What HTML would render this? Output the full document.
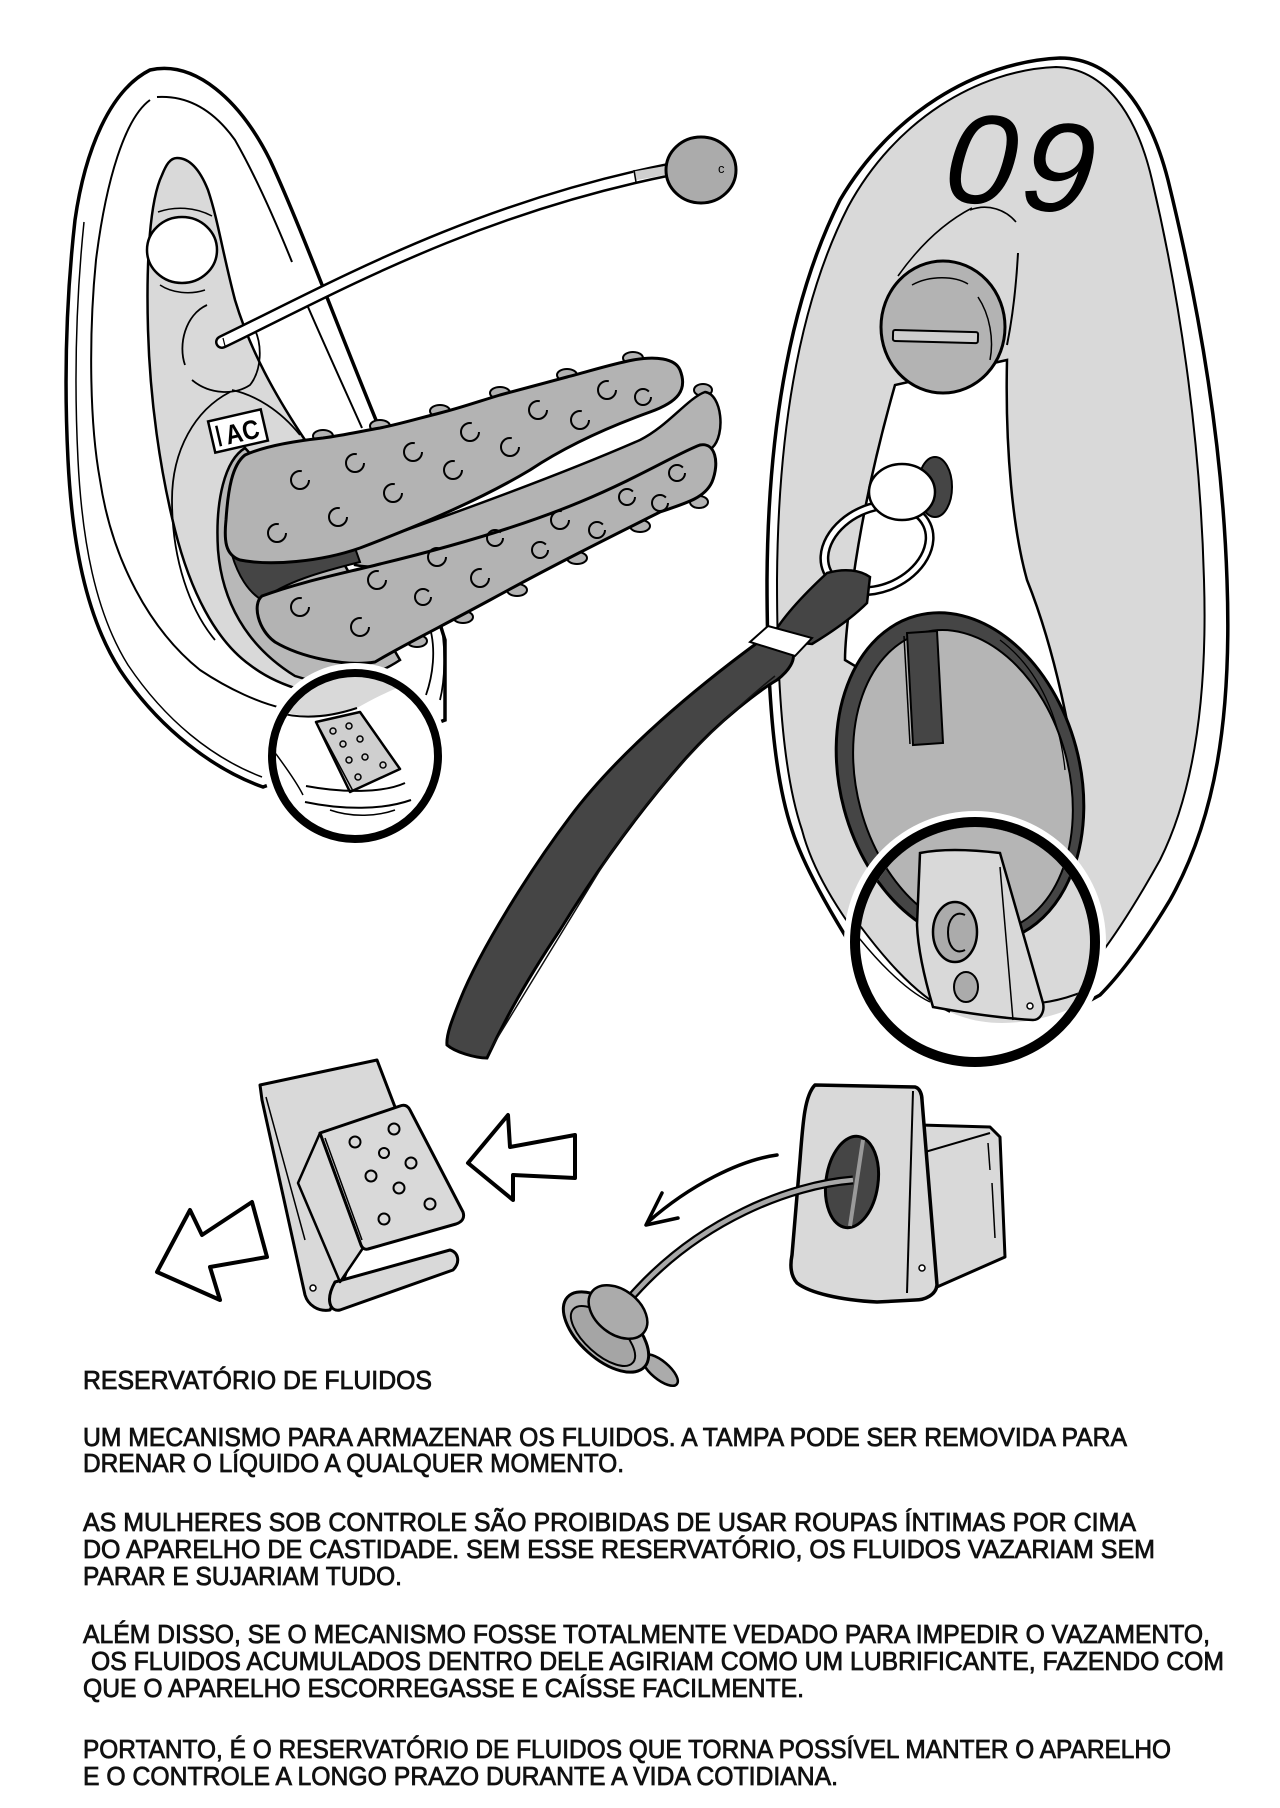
<!DOCTYPE html>
<html>
<head>
<meta charset="utf-8">
<style>
  html, body { margin:0; padding:0; background:#ffffff; }
  body { width:1280px; height:1808px; overflow:hidden; }
  svg { display:block; }
  .t { font-family: "Liberation Sans", "DejaVu Sans", sans-serif; font-size:26px; fill:#111; stroke:#111; stroke-width:0.8px; }
</style>
</head>
<body>
<svg width="1280" height="1808" viewBox="0 0 1280 1808" xmlns="http://www.w3.org/2000/svg">
  <defs>
    <clipPath id="c1"><circle cx="355" cy="756" r="79"/></clipPath>
    <clipPath id="c2"><circle cx="975" cy="942" r="115"/></clipPath>
    <g id="drain">
      <g transform="rotate(-15 960 778)">
        <ellipse cx="960" cy="778" rx="120" ry="168" fill="#454545" stroke="#000" stroke-width="3"/>
        <ellipse cx="962" cy="782" rx="106" ry="154" fill="#b5b5b5" stroke="#000" stroke-width="2"/>
      </g>
    </g>
  </defs>
  <rect width="1280" height="1808" fill="#fff"/>

  <!-- ============ LEFT DEVICE ============ -->
  <path d="M263,787 C215,770 160,730 120,670 C85,615 72,540 68,460 C64,380 66,300 75,220 C85,150 110,90 150,70 C195,60 240,100 270,160 C300,225 335,320 378,425 L445,640 L445,720 Z" fill="#fff" stroke="#000" stroke-width="3.5"/>
  <path d="M262,777 C212,758 165,720 128,665 C95,612 82,540 78,460 C74,380 76,300 84,222" fill="none" stroke="#000" stroke-width="1.5"/>
  <path d="M157,97 C190,95 215,112 235,140 C255,175 275,220 292,262" fill="none" stroke="#000" stroke-width="2"/>
  <path d="M305,300 C320,335 345,390 362,428" fill="none" stroke="#000" stroke-width="2"/>
  <path d="M150,100 C125,118 106,180 96,260 C89,330 89,420 100,480 C112,560 150,630 200,670 C230,690 260,703 282,708" fill="none" stroke="#000" stroke-width="2"/>

  <!-- gray tongue -->
  <path d="M177,158 C190,158 200,170 208,190 C218,220 222,250 235,300 C250,350 275,395 305,440 L370,700 C320,698 280,688 250,665 C215,640 190,590 175,530 C160,470 150,400 148,330 C146,260 150,200 162,175 C166,165 170,158 177,158 Z" fill="#d9d9d9" stroke="#000" stroke-width="2.5"/>
  <ellipse cx="182" cy="250" rx="35" ry="33" fill="#fff" stroke="#000" stroke-width="2.5"/>
  <path d="M158,212 C175,206 195,207 212,216" fill="none" stroke="#000" stroke-width="1.5"/>
  <path d="M160,285 C172,293 190,295 205,290" fill="none" stroke="#000" stroke-width="1.5"/>
  <path d="M207,305 C185,315 178,345 185,365" fill="none" stroke="#000" stroke-width="1.8"/>
  <path d="M192,380 C210,395 235,395 250,385 C262,370 262,345 255,330" fill="none" stroke="#000" stroke-width="1.8"/>
  <path d="M230,392 C195,410 172,450 172,500 C172,560 190,610 215,640" fill="none" stroke="#000" stroke-width="1.8"/>
  <path d="M232,390 C255,395 280,410 300,435" fill="none" stroke="#000" stroke-width="1.8"/>
  <g transform="translate(238,431) rotate(-13)">
    <rect x="-27" y="-16" width="54" height="32" fill="#fff" stroke="#000" stroke-width="2.5"/>
    <line x1="-20" y1="-10" x2="-20" y2="11" stroke="#000" stroke-width="2.5"/>
    <text x="4" y="11" font-family="Liberation Sans, sans-serif" font-weight="bold" font-size="27" text-anchor="middle" textLength="34" lengthAdjust="spacingAndGlyphs">AC</text>
  </g>

  <!-- tube & ball -->
  <path d="M222,342 C330,290 470,210 668,170" fill="none" stroke="#000" stroke-width="14" stroke-linecap="round"/>
  <path d="M222,342 C330,290 470,210 668,170" fill="none" stroke="#fff" stroke-width="9" stroke-linecap="round"/>
  <path d="M634,176 L668,170" fill="none" stroke="#cfcfcf" stroke-width="9"/>
  <line x1="634" y1="170" x2="636" y2="182" stroke="#000" stroke-width="1.5"/>
  <line x1="223" y1="338" x2="225" y2="346" stroke="#000" stroke-width="1.2"/>
  <ellipse cx="701" cy="170" rx="35" ry="33" fill="#ababab" stroke="#000" stroke-width="3"/>
  <text x="718" y="173" font-family="Liberation Sans, sans-serif" font-size="13" fill="#000">c</text>

  <!-- shell lines under insert -->
  <path d="M430,628 C436,650 433,675 426,695" fill="none" stroke="#000" stroke-width="1.8"/>
  <path d="M441,622 C446,650 445,680 440,700" fill="none" stroke="#000" stroke-width="1.8"/>

  <!-- insert rim -->
  <path d="M245,448 C225,460 215,500 218,550 C222,600 245,645 295,676 C330,688 370,680 400,660 L330,540 Z" fill="#b8b8b8" stroke="#000" stroke-width="2.5"/>

  <!-- bumps -->
  <g fill="#b3b3b3" stroke="#000" stroke-width="2">
    <ellipse cx="323" cy="436" rx="10" ry="6"/>
    <ellipse cx="380" cy="426" rx="10" ry="6"/>
    <ellipse cx="440" cy="411" rx="10" ry="6"/>
    <ellipse cx="500" cy="393" rx="10" ry="6"/>
    <ellipse cx="567" cy="375" rx="10" ry="6"/>
    <ellipse cx="633" cy="358" rx="10" ry="6"/>
    <ellipse cx="703" cy="390" rx="9" ry="6"/>
    <ellipse cx="417" cy="641" rx="10" ry="6"/>
    <ellipse cx="463" cy="617" rx="10" ry="6"/>
    <ellipse cx="517" cy="590" rx="10" ry="6"/>
    <ellipse cx="577" cy="558" rx="10" ry="6"/>
    <ellipse cx="640" cy="526" rx="10" ry="6"/>
    <ellipse cx="699" cy="502" rx="9" ry="6"/>
  </g>

  <!-- middle lobe -->
  <path d="M355,548 C450,515 560,475 640,440 C668,426 688,398 705,392 C722,394 726,435 712,448 C690,458 620,488 520,528 C440,558 390,572 355,565 Z" fill="#b3b3b3" stroke="#000" stroke-width="2.5"/>
  <!-- dark gap -->
  <path d="M232,555 C270,566 320,560 355,548 L360,562 C320,572 285,582 262,600 C248,592 238,575 232,555 Z" fill="#454545" stroke="#000" stroke-width="2"/>
  <!-- top lobe -->
  <path d="M245,455 C265,446 295,441 323,438 C345,435 362,431 380,428 C400,424 420,418 440,413 C460,408 480,401 500,395 C522,389 545,383 567,377 C590,371 612,364 633,360 C655,356 675,358 680,370 C688,390 678,402 650,412 C600,430 560,450 530,470 C480,500 420,525 360,548 C320,562 270,566 240,560 C225,555 224,540 226,520 C228,490 232,465 245,455 Z" fill="#b3b3b3" stroke="#000" stroke-width="3"/>
  <!-- bottom lobe -->
  <path d="M262,596 C300,582 340,574 380,564 C450,547 520,527 580,502 C640,477 680,452 700,445 C715,442 720,462 712,482 C705,497 690,502 660,512 C610,537 550,567 490,600 C440,627 400,647 375,662 C345,667 300,657 275,642 C258,630 252,604 262,596 Z" fill="#b3b3b3" stroke="#000" stroke-width="3"/>

  <!-- dimples -->
  <g fill="none" stroke="#000" stroke-width="2" stroke-dasharray="44 13">
    <circle cx="300" cy="480" r="9"/><circle cx="355" cy="463" r="9"/><circle cx="413" cy="452" r="9"/>
    <circle cx="470" cy="432" r="9"/><circle cx="538" cy="410" r="9"/><circle cx="607" cy="390" r="9"/>
    <circle cx="643" cy="397" r="8"/><circle cx="580" cy="420" r="9"/><circle cx="510" cy="447" r="9"/>
    <circle cx="453" cy="470" r="9"/><circle cx="393" cy="493" r="9"/><circle cx="338" cy="517" r="9"/>
    <circle cx="277" cy="533" r="9"/>
    <circle cx="300" cy="607" r="9"/><circle cx="377" cy="580" r="9"/><circle cx="437" cy="557" r="9"/>
    <circle cx="495" cy="538" r="8"/><circle cx="560" cy="520" r="9"/><circle cx="627" cy="497" r="8"/>
    <circle cx="677" cy="473" r="8"/><circle cx="597" cy="530" r="8"/><circle cx="660" cy="503" r="8"/>
    <circle cx="540" cy="550" r="8"/><circle cx="480" cy="578" r="9"/><circle cx="423" cy="597" r="8"/>
    <circle cx="360" cy="627" r="9"/>
  </g>

  <!-- ============ RIGHT DEVICE ============ -->
  <path d="M767,580 C768,430 790,300 840,200 C890,115 975,62 1060,58 C1115,58 1150,110 1168,180 C1195,290 1222,430 1227,580 C1232,720 1215,820 1170,900 C1140,950 1115,980 1100,995 L1000,1050 L880,990 C840,930 805,870 792,830 C775,780 767,700 767,580 Z" fill="#fff" stroke="#000" stroke-width="3.5"/>
  <path d="M777,580 C778,435 798,305 848,207 C895,120 978,70 1056,67 C1105,68 1137,115 1152,180 C1178,290 1200,430 1204,580 C1208,710 1190,800 1160,860 C1135,905 1115,935 1100,955 L900,990 C850,930 815,880 802,830 C785,780 777,700 777,580 Z" fill="#d9d9d9" stroke="#000" stroke-width="2"/>
  <!-- white gap -->
  <path d="M895,385 C878,445 862,515 853,580 C848,615 845,640 845,660 L1079,800 C1073,740 1055,650 1027,580 C1013,530 1005,450 1007,360 Z" fill="#fff" stroke="#000" stroke-width="2.5"/>
  <!-- tube lines behind cap -->
  <path d="M898,276 C920,245 945,222 972,208" fill="none" stroke="#000" stroke-width="1.6"/>
  <path d="M970,210 C988,203 1006,210 1016,222" fill="none" stroke="#000" stroke-width="1.6"/>
  <path d="M1018,253 C1016,290 1012,320 1007,345" fill="none" stroke="#000" stroke-width="2"/>
  <!-- screw cap -->
  <ellipse cx="943" cy="327" rx="62" ry="66" fill="#b3b3b3" stroke="#000" stroke-width="3"/>
  <path d="M912,285 C930,275 955,276 968,284" fill="none" stroke="#000" stroke-width="1.5"/>
  <path d="M978,297 C990,315 994,340 990,360" fill="none" stroke="#000" stroke-width="1.5"/>
  <rect x="893" y="331" width="85" height="11" rx="2" fill="#cfcfcf" stroke="#000" stroke-width="2" transform="rotate(1.5 935 336)"/>
  <!-- digits -->
  <text x="0" y="0" transform="translate(936,199) rotate(6) skewX(-10)" font-family="Liberation Sans, sans-serif" font-size="128" letter-spacing="6" fill="#000">09</text>

  <!-- drain -->
  <use href="#drain"/>
  <polygon points="907,633 937,631 943,743 913,745" fill="#454545" stroke="#000" stroke-width="2"/>
  <line x1="904" y1="636" x2="910" y2="744" stroke="#000" stroke-width="1.5"/>
  <path d="M1000,640 C1040,670 1060,720 1065,770" fill="none" stroke="#000" stroke-width="1.3"/>

  <!-- grommet and D-ring -->
  <ellipse cx="935" cy="487" rx="17" ry="30" fill="#454545" stroke="#000" stroke-width="2"/>
  <ellipse cx="877" cy="548" rx="55" ry="40" transform="rotate(-25 877 548)" fill="none" stroke="#000" stroke-width="10"/>
  <ellipse cx="877" cy="548" rx="55" ry="40" transform="rotate(-25 877 548)" fill="none" stroke="#fff" stroke-width="5"/>
  <ellipse cx="902" cy="492" rx="33" ry="28" fill="#fff" stroke="#000" stroke-width="2.5"/>

  <!-- strap -->
  <path d="M770,640 C780,620 800,598 827,573 C845,568 860,570 870,577 L867,603 C855,615 840,627 812,644 Z" fill="#454545" stroke="#000" stroke-width="2.5"/>
  <path d="M757,643 C700,685 620,750 570,817 C530,870 480,950 460,1000 C452,1020 446,1035 447,1045 C455,1052 475,1058 487,1058 C500,1030 520,990 560,930 C600,865 640,810 687,757 C720,720 760,690 777,680 C790,670 795,660 793,653 Z" fill="#454545" stroke="#000" stroke-width="3"/>
  <path d="M775,676 C720,720 650,790 600,870 C560,935 520,1000 490,1050" fill="none" stroke="#111" stroke-width="1.5"/>
  <polygon points="750,642 768,626 812,638 795,656" fill="#fff" stroke="#000" stroke-width="2"/>

  <!-- ============ CIRCLE 2 ============ -->
  <circle cx="975" cy="942" r="131" fill="#fff"/>
  <g clip-path="url(#c2)">
    <rect x="840" y="800" width="280" height="280" fill="#d9d9d9"/>
    <use href="#drain"/>
    <path d="M845,905 C880,955 915,995 950,1012 C1000,1035 1060,1020 1120,985 L1120,1080 L840,1080 Z" fill="#fff"/>
    <path d="M845,905 C880,955 915,995 950,1012" fill="none" stroke="#000" stroke-width="2"/>
    <path d="M845,920 C875,960 905,990 930,1002" fill="none" stroke="#000" stroke-width="1.5"/>
    <path d="M1040,1003 C1065,1000 1085,992 1120,975" fill="none" stroke="#000" stroke-width="2"/>
    <path d="M920,853 C945,848 975,850 1000,853 L1043,1003 C1045,1012 1040,1020 1033,1020 C1000,1018 960,1012 933,1007 C925,980 918,950 917,925 Z" fill="#d9d9d9" stroke="#000" stroke-width="2.5"/>
    <path d="M1000,867 L1013,1020" fill="none" stroke="#000" stroke-width="1.5"/>
    <ellipse cx="955" cy="932" rx="22" ry="30" fill="#ababab" stroke="#000" stroke-width="2.5"/>
    <path d="M965,915 C955,910 948,920 948,932 C948,946 955,955 965,950" fill="none" stroke="#000" stroke-width="2"/>
    <ellipse cx="966" cy="987" rx="12" ry="15" fill="#ababab" stroke="#000" stroke-width="2"/>
    <circle cx="1030" cy="1006" r="3" fill="#fff" stroke="#000" stroke-width="1.5"/>
  </g>
  <circle cx="975" cy="942" r="120" fill="none" stroke="#000" stroke-width="10"/>

  <!-- ============ CIRCLE 1 ============ -->
  <circle cx="355" cy="756" r="93" fill="#fff"/>
  <g clip-path="url(#c1)">
    <path d="M265,705 C300,721 330,717 357,708 C380,695 400,685 440,673 L440,640 L265,640 Z" fill="#d9d9d9"/>
    <path d="M270,710 C300,721 330,717 357,708" fill="none" stroke="#000" stroke-width="2"/>
    <polygon points="316,722 360,712 400,769 350,792" fill="#cfcfcf" stroke="#000" stroke-width="2.5" stroke-linejoin="round"/>
    <line x1="320" y1="729" x2="353" y2="791" stroke="#000" stroke-width="1.5"/>
    <g fill="none" stroke="#000" stroke-width="1.5">
      <circle cx="333" cy="731" r="3"/><circle cx="349" cy="726" r="3"/><circle cx="343" cy="744" r="3"/>
      <circle cx="360" cy="739" r="3"/><circle cx="349" cy="760" r="3"/><circle cx="365" cy="757" r="3"/>
      <circle cx="383" cy="765" r="3"/><circle cx="358" cy="777" r="3"/>
    </g>
    <path d="M306,786 C343,793 383,793 405,783" fill="none" stroke="#000" stroke-width="2"/>
    <path d="M305,802 C343,810 383,810 411,800" fill="none" stroke="#000" stroke-width="2"/>
    <path d="M330,810 C353,818 378,816 395,810" fill="none" stroke="#000" stroke-width="1.5"/>
    <path d="M273,750 C288,770 298,785 303,795" fill="none" stroke="#000" stroke-width="1.5"/>
  </g>
  <circle cx="355" cy="756" r="83" fill="none" stroke="#000" stroke-width="8"/>

  <!-- ============ BOTTOM LEFT CLIP ============ -->
  <g stroke="#000" stroke-linejoin="round">
    <path d="M260,1085 L377,1060 L400,1120 L340,1290 L330,1310 C318,1312 308,1305 305,1295 L262,1100 Z" fill="#d9d9d9" stroke-width="3"/>
    <path d="M266,1097 L305,1240" fill="none" stroke-width="1.5"/>
    <path d="M335,1282 L450,1250 C458,1252 461,1262 453,1270 L340,1310 C330,1312 325,1300 335,1282 Z" fill="#d9d9d9" stroke-width="3"/>
    <polygon points="320,1133 298,1183 340,1282 363,1248" fill="#d9d9d9" stroke-width="2.5"/>
    <path d="M320,1133 L400,1106 C405,1104 408,1106 410,1110 L463,1212 C465,1218 462,1222 456,1224 L368,1249 C365,1250 362,1248 361,1245 L320,1133 Z" fill="#d9d9d9" stroke-width="3"/>
    <line x1="325" y1="1138" x2="362" y2="1240" stroke-width="1.5"/>
    <g fill="none" stroke-width="2">
      <circle cx="355" cy="1142" r="5.5"/><circle cx="394" cy="1129" r="5.5"/><circle cx="384" cy="1153" r="5"/>
      <circle cx="411" cy="1163" r="5.5"/><circle cx="371" cy="1176" r="5.5"/><circle cx="399" cy="1188" r="5.5"/>
      <circle cx="430" cy="1204" r="5.5"/><circle cx="384" cy="1219" r="5.5"/>
    </g>
    <circle cx="313" cy="1288" r="3" fill="#fff" stroke-width="1.5"/>
  </g>

  <!-- arrows -->
  <polygon points="468,1163 508,1115 510,1147 575,1135 575,1178 513,1175 513,1200" fill="#fff" stroke="#000" stroke-width="4" stroke-linejoin="round"/>
  <polygon points="157,1272 190,1210 202,1235 252,1202 267,1257 210,1267 220,1300" fill="#fff" stroke="#000" stroke-width="4" stroke-linejoin="round"/>

  <!-- ============ BOTTOM RIGHT RESERVOIR ============ -->
  <g stroke="#000" stroke-linejoin="round">
    <polygon points="920,1125 990,1127 1000,1137 1005,1257 937,1287" fill="#d9d9d9" stroke-width="3"/>
    <line x1="925" y1="1152" x2="990" y2="1133" stroke-width="2"/>
    <line x1="988" y1="1143" x2="990" y2="1170" stroke-width="1.5"/>
    <line x1="992" y1="1183" x2="995" y2="1238" stroke-width="1.5"/>
    <path d="M815,1085 L915,1087 C920,1088 922,1095 922,1100 L937,1285 C936,1295 925,1300 915,1300 L877,1302 C840,1300 810,1293 797,1283 C790,1275 790,1265 792,1255 L800,1160 C803,1120 805,1095 815,1085 Z" fill="#d9d9d9" stroke-width="3.5"/>
    <line x1="913" y1="1091" x2="907" y2="1293" stroke-width="2"/>
    <circle cx="922" cy="1268" r="3" fill="#fff" stroke-width="1.5"/>
    <ellipse cx="852" cy="1182" rx="26" ry="46" transform="rotate(8 852 1182)" fill="#454545" stroke-width="3"/>
    <line x1="863" y1="1140" x2="850" y2="1226" stroke="#9a9a9a" stroke-width="4"/>
  </g>
  <path d="M853,1180 C790,1185 700,1220 633,1295" fill="none" stroke="#000" stroke-width="9"/>
  <path d="M853,1180 C790,1185 700,1220 633,1295" fill="none" stroke="#a8a8a8" stroke-width="4.5"/>
  <path d="M777,1155 C740,1160 690,1185 648,1222" fill="none" stroke="#000" stroke-width="3.5" stroke-linecap="round"/>
  <path d="M662,1193 L646,1225 L678,1218" fill="none" stroke="#000" stroke-width="3.5" stroke-linecap="round" stroke-linejoin="round"/>
  <!-- cap -->
  <g stroke="#000">
    <ellipse cx="660" cy="1370" rx="22" ry="9" transform="rotate(40 660 1370)" fill="#ababab" stroke-width="2.5"/>
    <ellipse cx="606" cy="1332" rx="52" ry="27" transform="rotate(42 606 1332)" fill="#b3b3b3" stroke-width="3"/>
    <ellipse cx="603" cy="1336" rx="40" ry="18" transform="rotate(42 603 1336)" fill="#a5a5a5" stroke-width="2"/>
    <ellipse cx="618" cy="1312" rx="33" ry="22" transform="rotate(38 618 1312)" fill="#ababab" stroke-width="2.5"/>
  </g>

  <!-- ============ TEXT ============ -->
  <g class="t">
    <text x="83" y="1389" textLength="349" lengthAdjust="spacingAndGlyphs">RESERVATÓRIO DE FLUIDOS</text>
    <text x="83" y="1446" textLength="1044" lengthAdjust="spacingAndGlyphs">UM MECANISMO PARA ARMAZENAR OS FLUIDOS. A TAMPA PODE SER REMOVIDA PARA</text>
    <text x="83" y="1472" textLength="541" lengthAdjust="spacingAndGlyphs">DRENAR O LÍQUIDO A QUALQUER MOMENTO.</text>
    <text x="83" y="1531" textLength="1053" lengthAdjust="spacingAndGlyphs">AS MULHERES SOB CONTROLE SÃO PROIBIDAS DE USAR ROUPAS ÍNTIMAS POR CIMA</text>
    <text x="83" y="1558" textLength="1072" lengthAdjust="spacingAndGlyphs">DO APARELHO DE CASTIDADE. SEM ESSE RESERVATÓRIO, OS FLUIDOS VAZARIAM SEM</text>
    <text x="83" y="1585" textLength="319" lengthAdjust="spacingAndGlyphs">PARAR E SUJARIAM TUDO.</text>
    <text x="83" y="1643" textLength="1127" lengthAdjust="spacingAndGlyphs">ALÉM DISSO, SE O MECANISMO FOSSE TOTALMENTE VEDADO PARA IMPEDIR O VAZAMENTO,</text>
    <text x="91" y="1670" textLength="1133" lengthAdjust="spacingAndGlyphs">OS FLUIDOS ACUMULADOS DENTRO DELE AGIRIAM COMO UM LUBRIFICANTE, FAZENDO COM</text>
    <text x="83" y="1697" textLength="721" lengthAdjust="spacingAndGlyphs">QUE O APARELHO ESCORREGASSE E CAÍSSE FACILMENTE.</text>
    <text x="83" y="1758" textLength="1088" lengthAdjust="spacingAndGlyphs">PORTANTO, É O RESERVATÓRIO DE FLUIDOS QUE TORNA POSSÍVEL MANTER O APARELHO</text>
    <text x="83" y="1785" textLength="755" lengthAdjust="spacingAndGlyphs">E O CONTROLE A LONGO PRAZO DURANTE A VIDA COTIDIANA.</text>
  </g>
</svg>
</body>
</html>
